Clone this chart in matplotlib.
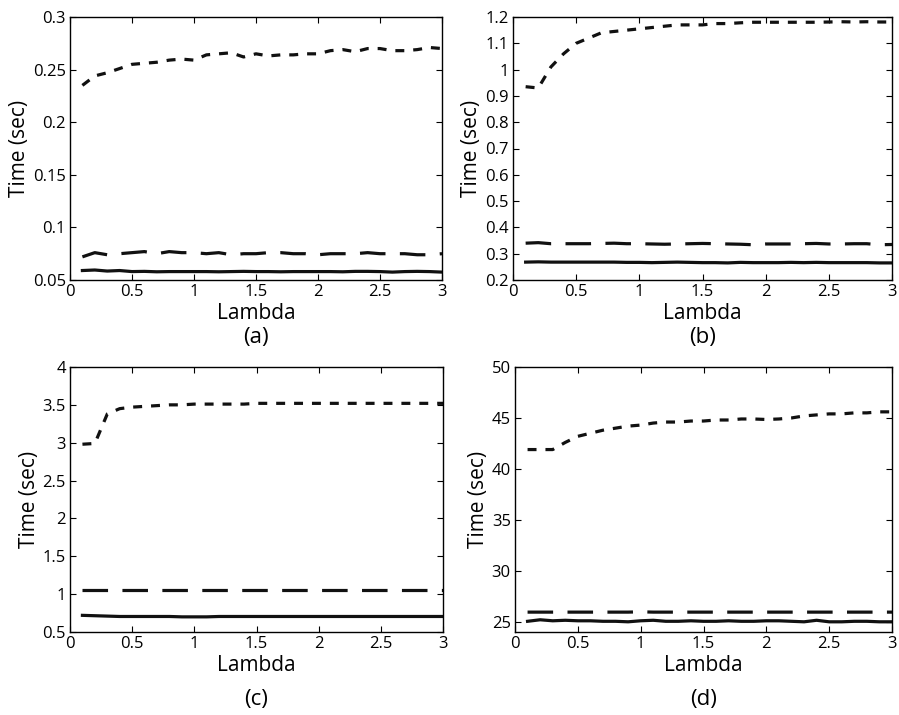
import numpy as np
import matplotlib
matplotlib.use("Agg")
import matplotlib.pyplot as plt

plt.rcParams['font.family'] = ['Open Sans', 'DejaVu Sans']

lam = [0.1, 0.2, 0.3, 0.4, 0.5, 0.6, 0.7, 0.8, 0.9, 1.0,
       1.1, 1.2, 1.3, 1.4, 1.5, 1.6, 1.7, 1.8, 1.9, 2.0,
       2.1, 2.2, 2.3, 2.4, 2.5, 2.6, 2.7, 2.8, 2.9, 3.0]

# (a)
a_dot = [0.235, 0.244, 0.247, 0.251, 0.255, 0.256, 0.257, 0.259, 0.260, 0.259,
         0.264, 0.265, 0.266, 0.262, 0.265, 0.263, 0.264, 0.264, 0.265, 0.265,
         0.268, 0.269, 0.267, 0.270, 0.270, 0.268, 0.268, 0.269, 0.271, 0.270]
a_dash = [0.072, 0.076, 0.074, 0.075, 0.076, 0.077, 0.075, 0.077, 0.076, 0.076,
          0.075, 0.076, 0.074, 0.075, 0.075, 0.076, 0.076, 0.075, 0.075, 0.074,
          0.075, 0.075, 0.075, 0.076, 0.075, 0.075, 0.075, 0.074, 0.074, 0.075]
a_solid = [0.059, 0.0595, 0.0585, 0.059, 0.058, 0.0582, 0.0578, 0.058, 0.058, 0.058,
           0.058, 0.0578, 0.058, 0.0582, 0.058, 0.058, 0.0578, 0.058, 0.058, 0.058,
           0.058, 0.0578, 0.0582, 0.0582, 0.058, 0.0575, 0.058, 0.0582, 0.058, 0.0575]

# (b)
b_dot = [0.935, 0.93, 1.01, 1.06, 1.10, 1.12, 1.14, 1.145, 1.15, 1.155,
         1.16, 1.165, 1.17, 1.17, 1.17, 1.175, 1.175, 1.178, 1.18, 1.18,
         1.18, 1.18, 1.18, 1.18, 1.181, 1.182, 1.181, 1.182, 1.181, 1.181]
b_dash = [0.340, 0.342, 0.338, 0.338, 0.338, 0.338, 0.339, 0.340, 0.338, 0.338,
          0.337, 0.336, 0.337, 0.338, 0.339, 0.338, 0.337, 0.336, 0.334, 0.337,
          0.337, 0.337, 0.338, 0.339, 0.337, 0.337, 0.338, 0.338, 0.334, 0.335]
b_solid = [0.268, 0.269, 0.268, 0.268, 0.268, 0.268, 0.268, 0.268, 0.267, 0.267,
           0.266, 0.267, 0.268, 0.267, 0.266, 0.266, 0.265, 0.267, 0.266, 0.266,
           0.266, 0.267, 0.266, 0.267, 0.266, 0.266, 0.266, 0.266, 0.265, 0.265]

# (c)
c_dot = [2.98, 2.99, 3.38, 3.45, 3.47, 3.48, 3.49, 3.50, 3.50, 3.51,
         3.51, 3.51, 3.51, 3.51, 3.52, 3.52, 3.52, 3.52, 3.52, 3.52,
         3.52, 3.52, 3.52, 3.52, 3.52, 3.52, 3.52, 3.52, 3.52, 3.52]
c_dash = [1.05, 1.05, 1.05, 1.05, 1.05, 1.05, 1.05, 1.05, 1.05, 1.05,
          1.05, 1.05, 1.05, 1.05, 1.05, 1.05, 1.05, 1.05, 1.05, 1.05,
          1.05, 1.05, 1.05, 1.05, 1.05, 1.05, 1.05, 1.05, 1.05, 1.05]
c_solid = [0.72, 0.715, 0.71, 0.705, 0.705, 0.705, 0.705, 0.705, 0.70, 0.70,
           0.70, 0.705, 0.705, 0.705, 0.705, 0.705, 0.705, 0.705, 0.705, 0.705,
           0.705, 0.705, 0.705, 0.705, 0.705, 0.705, 0.705, 0.705, 0.705, 0.705]

# (d)
d_dot = [41.9, 41.9, 41.9, 42.6, 43.2, 43.5, 43.8, 44.0, 44.2, 44.3,
         44.5, 44.6, 44.6, 44.7, 44.7, 44.8, 44.8, 44.9, 44.9, 44.85,
         44.9, 45.0, 45.2, 45.3, 45.4, 45.4, 45.5, 45.5, 45.6, 45.6]
d_dash = [25.95, 25.95, 25.95, 25.95, 25.95, 25.95, 25.95, 25.95, 25.95, 25.98,
          25.95, 25.95, 25.95, 25.95, 25.95, 25.95, 25.95, 25.95, 25.95, 25.95,
          25.95, 25.95, 25.95, 25.95, 25.95, 25.95, 25.95, 25.95, 25.95, 25.95]
d_solid = [25.05, 25.2, 25.1, 25.15, 25.1, 25.1, 25.05, 25.05, 25.0, 25.1,
           25.15, 25.05, 25.05, 25.1, 25.05, 25.05, 25.1, 25.05, 25.05, 25.1,
           25.1, 25.05, 25.0, 25.15, 25.0, 25.0, 25.05, 25.05, 25.0, 25.0]

panels = [
    # data, ylim, yticks, ytick labels, axes rect in px (left, top, right, bottom), label
    ((a_dot, a_dash, a_solid), (0.05, 0.3),
     [0.05, 0.1, 0.15, 0.2, 0.25, 0.3], ['0.05', '0.1', '0.15', '0.2', '0.25', '0.3'],
     (70, 17, 442, 280), '(a)', 338),
    ((b_dot, b_dash, b_solid), (0.2, 1.2),
     [0.2, 0.3, 0.4, 0.5, 0.6, 0.7, 0.8, 0.9, 1.0, 1.1, 1.2],
     ['0.2', '0.3', '0.4', '0.5', '0.6', '0.7', '0.8', '0.9', '1', '1.1', '1.2'],
     (513, 17, 892, 280), '(b)', 338),
    ((c_dot, c_dash, c_solid), (0.5, 4),
     [0.5, 1, 1.5, 2, 2.5, 3, 3.5, 4], ['0.5', '1', '1.5', '2', '2.5', '3', '3.5', '4'],
     (70, 367, 443, 632), '(c)', 700),
    ((d_dot, d_dash, d_solid), (24, 50),
     [25, 30, 35, 40, 45, 50], ['25', '30', '35', '40', '45', '50'],
     (515, 367, 892, 632), '(d)', 700),
]

W, H = 899, 715
fig = plt.figure(figsize=(W / 100, H / 100), dpi=100)

for (dot, dash, solid), ylim, yt, ytl, (l, t, r, b), lab, laby in panels:
    ax = fig.add_axes([l / W, 1 - b / H, (r - l) / W, (b - t) / H])
    ax.plot(lam, dot, color='#111111', lw=2.3, dashes=(2.8, 2.8))
    ax.plot(lam, dash, color='#111111', lw=2.3, dashes=(8, 4.5))
    ax.plot(lam, solid, color='#111111', lw=2.3)
    ax.set_xlim(0, 3)
    ax.set_ylim(*ylim)
    ax.set_xticks([0, 0.5, 1, 1.5, 2, 2.5, 3])
    ax.set_xticklabels(['0', '0.5', '1', '1.5', '2', '2.5', '3'])
    ax.set_yticks(yt)
    ax.set_yticklabels(ytl)
    ax.tick_params(direction='in', top=True, right=True, length=4.5, width=0.8,
                   labelsize=12, pad=3)
    for s in ax.spines.values():
        s.set_linewidth(1.0)
    ax.set_xlabel('Lambda', fontsize=15, labelpad=2)
    ax.set_ylabel('Time (sec)', fontsize=15, labelpad=2)
    fig.text((l + r) / 2 / W, 1 - laby / H, lab, fontsize=16, ha='center', va='center')

fig.savefig('out.png', dpi=100)
